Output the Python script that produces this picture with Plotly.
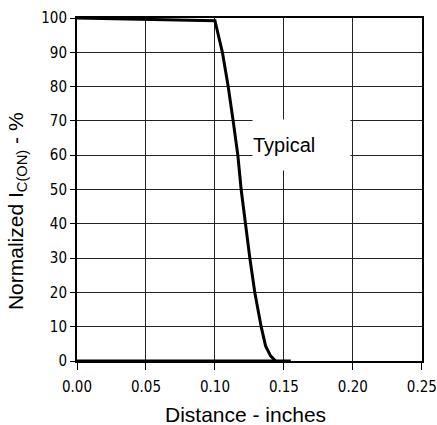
import plotly.graph_objects as go

# Data
dist_in = [0.0, 0.100, 0.1054, 0.1096, 0.1132, 0.1166, 0.1190, 0.1221, 0.1253, 0.1289, 0.1335, 0.1367, 0.1403, 0.1440]
ic_pct = [100, 99.2, 90, 80, 70, 60, 50, 40, 30, 20, 10, 4.4, 1.5, 0]
base_x = [0.0, 0.155]
base_y = [0, 0]
x_ticks = [0.0, 0.05, 0.10, 0.15, 0.20, 0.25]
y_ticks = [0, 10, 20, 30, 40, 50, 60, 70, 80, 90, 100]
label_text = "Typical"
x_title = "Distance - inches"
y_title = "Normalized I<sub>C(ON)</sub> - %"

fig = go.Figure()
fig.add_trace(go.Scatter(x=base_x, y=base_y, mode="lines",
                         line=dict(color="black", width=3), cliponaxis=False,
                         hoverinfo="skip", showlegend=False))
fig.add_trace(go.Scatter(x=dist_in, y=ic_pct, mode="lines",
                         line=dict(color="black", width=3), cliponaxis=False,
                         showlegend=False))

fig.add_annotation(x=0.1624, y=63.1, xref="x", yref="y", text=label_text,
                   showarrow=False, bgcolor="white", width=97, height=50,
                   align="left", valign="middle", borderpad=0,
                   font=dict(family="Arial, Liberation Sans", size=20, color="black"))

fig.add_annotation(x=-0.174, y=0.437, xref="paper", yref="paper", text=y_title,
                   textangle=-90, showarrow=False, xanchor="center", yanchor="middle",
                   font=dict(family="Arial, Liberation Sans", size=21, color="black"))
fig.add_annotation(x=0.487, y=-0.157, xref="paper", yref="paper", text=x_title,
                   showarrow=False, xanchor="center", yanchor="middle",
                   font=dict(family="Arial, Liberation Sans", size=21, color="black"))

tickfont = dict(family="DejaVu Sans Condensed, Liberation Sans Narrow, DejaVu Sans", size=15, color="black")
fig.update_xaxes(range=[0, 0.2501], tickvals=x_ticks, ticktext=[f"{v:.2f}" for v in x_ticks],
                 showgrid=True, gridcolor="#222", gridwidth=1,
                 showline=True, linecolor="black", linewidth=2, mirror=True,
                 ticks="outside", ticklen=7, tickcolor="black", tickwidth=1,
                 ticklabelstandoff=4, automargin=False,
                 tickfont=tickfont, zeroline=False)
fig.update_yaxes(range=[0, 100], tickvals=y_ticks,
                 showgrid=True, gridcolor="#222", gridwidth=1,
                 showline=True, linecolor="black", linewidth=2, mirror=True,
                 ticks="outside", ticklen=5, tickcolor="black", tickwidth=1,
                 automargin=False,
                 tickfont=tickfont, zeroline=False)

fig.update_layout(width=437, height=425, margin=dict(l=77, r=15, t=18, b=64),
                  plot_bgcolor="white", paper_bgcolor="white")
fig.write_html("out.html")
